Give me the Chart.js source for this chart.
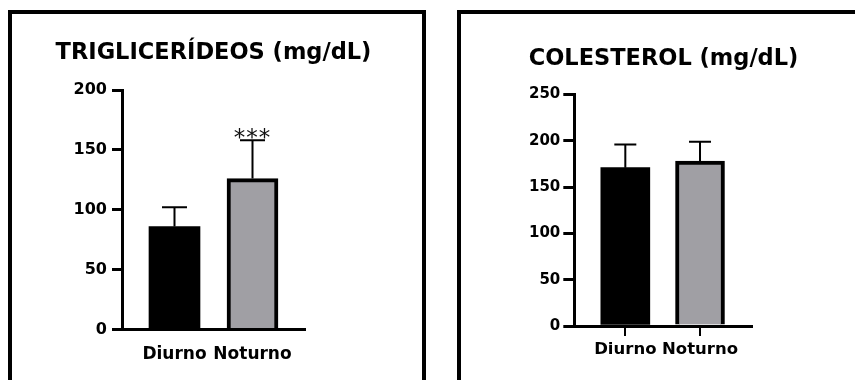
<!DOCTYPE html>
<html>
<head>
<meta charset="utf-8">
<script src="https://cdn.jsdelivr.net/npm/chart.js@4.4.1/dist/chart.umd.min.js"></script>
<style>
  html, body { margin: 0; padding: 0; background: #fff; overflow: hidden; width: 855px; height: 380px; }
  .panel { position: absolute; border: 4px solid #000; box-sizing: border-box; background: #fff; }
  canvas { position: absolute; }
</style>
</head>
<body>
<div class="panel" style="left:8px; top:10px; width:418px; height:400px;"></div>
<div class="panel" style="left:457px; top:10px; width:420px; height:400px;"></div>
<canvas id="trig" width="427" height="380" style="left:0px; top:0px;"></canvas>
<canvas id="col" width="383" height="380" style="left:472px; top:0px;"></canvas>
<script>
// ---- data ----
const categories = ['Diurno', 'Noturno'];
const categoryPositions = [0, 1];

const trigTitle = 'TRIGLICERÍDEOS (mg/dL)';
const trigMeans = [86, 126];
const trigSD = [16, 32];
const trigMarks = ['', '***'];
const trigYTicks = [0, 50, 100, 150, 200];

const colTitle = 'COLESTEROL (mg/dL)';
const colMeans = [171, 178];
const colSD = [25, 21];
const colMarks = ['', ''];
const colYTicks = [0, 50, 100, 150, 200, 250];

const barColors = ['#000000', '#a09fa4'];
const FONT = 'DejaVu Sans';

// ---- error bar plugin ----
const errorBars = {
  id: 'errorBars',
  afterDatasetsDraw(chart, args, opts) {
    const ctx = chart.ctx;
    const yScale = chart.scales.y;
    const meta = chart.getDatasetMeta(0);
    const ds = chart.data.datasets[0];
    meta.data.forEach((bar, i) => {
      const v = ds.data[i].y;
      const top = yScale.getPixelForValue(v + opts.errors[i]);
      ctx.save();
      ctx.strokeStyle = '#000';
      ctx.lineWidth = 2;
      ctx.beginPath();
      ctx.moveTo(bar.x, bar.y);
      ctx.lineTo(bar.x, top);
      ctx.moveTo(bar.x - opts.cap / 2, top);
      ctx.lineTo(bar.x + opts.cap / 2, top);
      ctx.stroke();
      const mark = opts.marks[i];
      if (mark) {
        ctx.fillStyle = '#111';
        ctx.font = 'normal 23px "' + FONT + '"';
        try { ctx.letterSpacing = '1px'; } catch (e) {}
        ctx.textAlign = 'center';
        ctx.textBaseline = 'alphabetic';
        ctx.fillText(mark, bar.x, top + 5);
      }
      ctx.restore();
    });
  }
};

function makeChart(id, cfg) {
  const data = categoryPositions.map((x, i) => ({ x: x, y: cfg.means[i] }));
  return new Chart(document.getElementById(id), {
    type: 'bar',
    data: {
      datasets: [{
        data: data,
        backgroundColor: barColors,
        borderColor: '#000',
        borderWidth: [0, 4],
        borderSkipped: 'start',
        barThickness: cfg.barW,
        yAxisID: 'y'
      }]
    },
    options: {
      responsive: false,
      animation: false,
      devicePixelRatio: 1,
      layout: { padding: 0 },
      plugins: {
        legend: { display: false },
        tooltip: { enabled: false },
        title: {
          display: true,
          text: cfg.title,
          color: '#000',
          font: { family: FONT, size: 22.5, weight: 'bold', lineHeight: 1.2 },
          padding: { top: cfg.titleTop, bottom: cfg.titleBottom }
        },
        errorBars: { errors: cfg.sd, marks: cfg.marks, cap: cfg.cap }
      },
      scales: {
        x: {
          type: 'linear',
          offset: false,
          min: cfg.xMin,
          max: cfg.xMax,
          afterBuildTicks: (s) => { s.ticks = categoryPositions.map(v => ({ value: v })); },
          afterFit: (s) => { s.height = cfg.xH; },
          ticks: {
            autoSkip: false,
            color: '#000',
            padding: cfg.xPad,
            font: { family: FONT, size: cfg.catSize, weight: 'bold' },
            callback: (v) => categories[categoryPositions.indexOf(v)]
          },
          grid: {
            display: cfg.xTicks,
            offset: false,
            drawOnChartArea: false,
            drawTicks: cfg.xTicks,
            tickLength: 10,
            lineWidth: 2,
            color: '#000'
          },
          border: { display: true, color: '#000', width: 3 }
        },
        y: {
          position: 'left',
          min: 0,
          max: cfg.yTicks[cfg.yTicks.length - 1],
          afterBuildTicks: (s) => { s.ticks = cfg.yTicks.map(v => ({ value: v })); },
          afterFit: (s) => { s.width = cfg.yW; },
          ticks: {
            color: '#000',
            padding: cfg.yPad,
            font: { family: FONT, size: cfg.tickSize, weight: 'bold' }
          },
          grid: {
            display: true,
            drawOnChartArea: false,
            drawTicks: true,
            tickLength: cfg.yTickLen,
            lineWidth: 3,
            color: '#000'
          },
          border: { display: true, color: '#000', width: 3 }
        },
        yR: {
          position: 'right',
          min: 0,
          max: 1,
          afterFit: (s) => { s.width = cfg.rightW; },
          ticks: { display: false },
          grid: { display: false, drawTicks: false },
          border: { display: false }
        }
      }
    },
    plugins: [errorBars]
  });
}

makeChart('trig', {
  title: trigTitle, means: trigMeans, sd: trigSD, marks: trigMarks, yTicks: trigYTicks,
  barW: 51, cap: 25, xMin: -0.673, xMax: 1.673,
  rightW: 122, yW: 122, xH: 50.5, titleTop: 39.7, titleBottom: 23.3,
  xTicks: false, xPad: 14.5, catSize: 17, tickSize: 16, yPad: 5, yTickLen: 10
});

makeChart('col', {
  title: colTitle, means: colMeans, sd: colSD, marks: colMarks, yTicks: colYTicks,
  barW: 49, cap: 22, xMin: -0.683, xMax: 1.692,
  rightW: 103.3, yW: 102.3, xH: 54, titleTop: 45.8, titleBottom: 21.7,
  xTicks: true, xPad: 3.5, catSize: 16.5, tickSize: 15, yPad: 3, yTickLen: 11
});
</script>
</body>
</html>
